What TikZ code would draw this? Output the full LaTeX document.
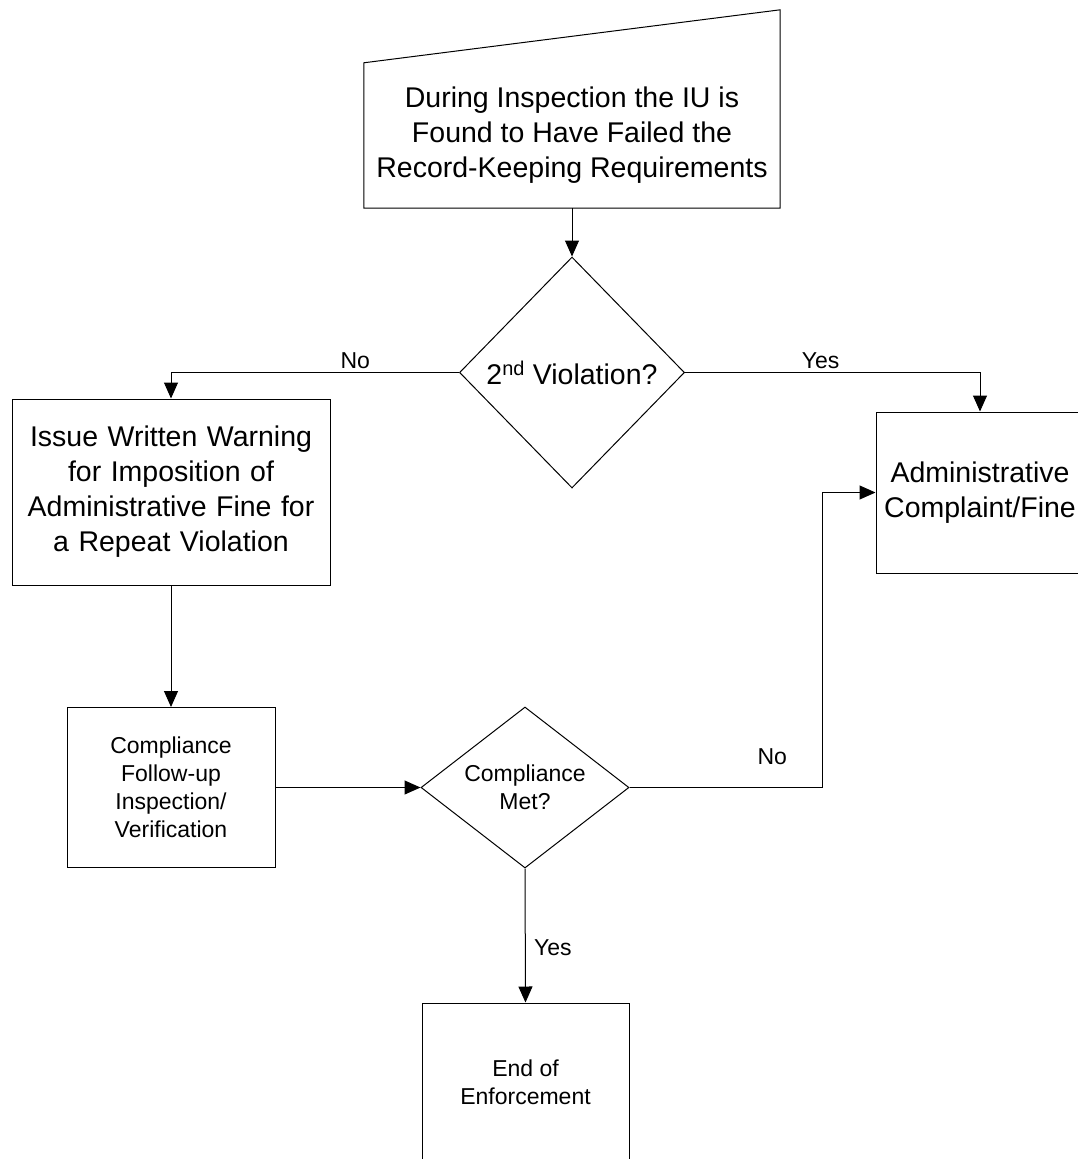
\documentclass[tikz,border=0pt]{standalone}
\usepackage{fontspec}
\setmainfont{Liberation Sans}
\usetikzlibrary{arrows.meta,shapes.geometric}

\tikzset{
  big/.style={font=\fontsize{28.5}{35}\selectfont, align=center},
  small/.style={font=\fontsize{23}{28}\selectfont, align=center},
  box/.style={draw, line width=1pt, inner sep=0pt},
  decision/.style={draw, diamond, line width=1pt, inner sep=0pt},
  flow/.style={line width=1pt, -{Triangle[length=16pt,width=14pt]}},
  lbl/.style={font=\fontsize{23}{28}\selectfont},
}

\begin{document}
\begin{tikzpicture}[x=1pt,y=-1pt]
  \useasboundingbox (0,0) rectangle (1078,1159);
  \clip (0,0) rectangle (1078,1159);

  % manual-input start shape (slanted top edge)
  \node[big, minimum width=416pt, minimum height=145pt, inner sep=0pt]
    (start) at (572,135.5) {During Inspection the IU is\\Found to Have Failed the\\Record-Keeping Requirements};
  \draw[line width=1pt] (start.south west) -- (start.north west)
    -- ([yshift=53pt]start.north east) -- (start.south east) -- cycle;

  % first decision
  \node[decision, big, minimum width=225pt, minimum height=231pt]
    (viol) at (572,372.5) {2\textsuperscript{nd} Violation?};

  % process boxes
  \node[box, big, minimum width=318pt, minimum height=186pt, text width=318pt]
    (warn) at (171,492) {Issue Written Warning\\for Imposition of\\Administrative Fine for\\a Repeat Violation};
  \node[box, big, minimum width=208pt, minimum height=161pt]
    (admin) at (980,492.5) {Administrative\\Complaint/Fine};
  \node[box, small, minimum width=208pt, minimum height=160pt]
    (comp) at (171,787.5) {Compliance\\Follow-up\\Inspection/\\Verification};

  % second decision
  \node[decision, small, shape aspect=1.3, minimum width=208pt, minimum height=161pt]
    (met) at (525,787.5) {Compliance\\Met?};

  % end box
  \node[box, small, minimum width=207pt, minimum height=158pt]
    (fin) at (525.5,1082) {End of\\Enforcement};

  % connectors
  \draw[flow] (start.south) -- (viol.north);
  \draw[flow] (viol.west) -| node[lbl, above, pos=0.18] {No} (warn.north);
  \draw[flow] (viol.east) -| node[lbl, above, pos=0.23] {Yes} (admin.north);
  \draw[flow] (warn.south) -- (comp.north);
  \draw[flow] (comp.east) -- (met.west);
  \coordinate (bend) at ([xshift=-53pt]admin.west);
  \draw[flow] (met.east) -| node[lbl, above, pos=0.37, yshift=19pt] {No} (bend) -- (admin.west);
  \draw[flow] (met.south) -- node[lbl, right, pos=0.59, xshift=5pt] {Yes} (fin.north);
\end{tikzpicture}
\end{document}
